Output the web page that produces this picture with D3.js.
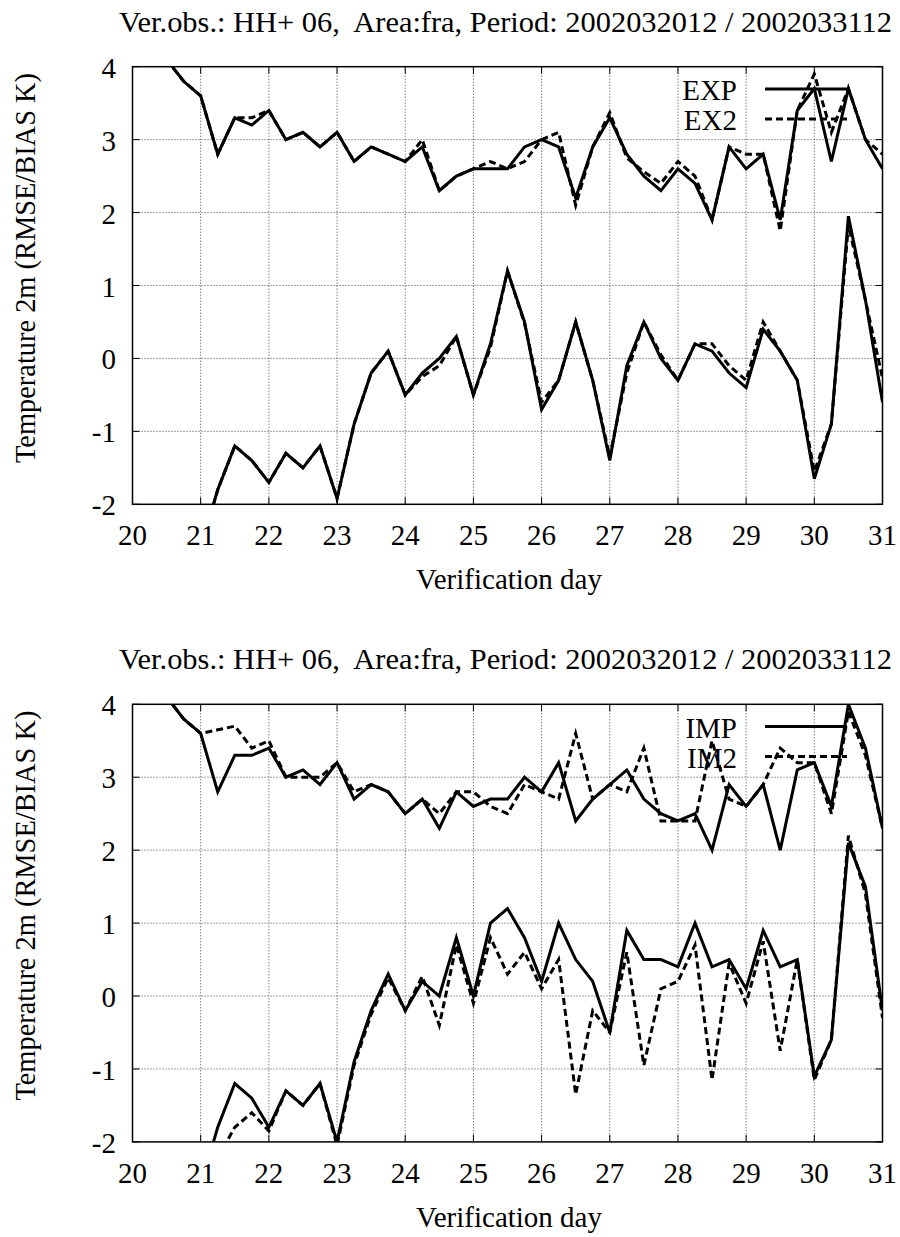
<!DOCTYPE html>
<html>
<head>
<meta charset="utf-8">
<script src="https://cdn.jsdelivr.net/npm/d3@7"></script>
<style>
  html, body { margin: 0; padding: 0; background: #fff; }
  #chart text { font-family: "Liberation Serif", "Times New Roman", Tinos, "Nimbus Roman", "DejaVu Serif", serif; fill: #000; white-space: pre; }
</style>
</head>
<body>
<svg id="chart" width="900" height="1237" font-family="Liberation Serif, DejaVu Serif, serif"></svg>
<script>
'use strict';

var days = [20.5, 20.75, 21, 21.25, 21.5, 21.75, 22, 22.25, 22.5, 22.75,
    23, 23.25, 23.5, 23.75, 24, 24.25, 24.5, 24.75, 25, 25.25, 25.5, 25.75,
    26, 26.25, 26.5, 26.75, 27, 27.25, 27.5, 27.75, 28, 28.25, 28.5, 28.75,
    29, 29.25, 29.5, 29.75, 30, 30.25, 30.5, 30.75, 31];

var xTicks = [20, 21, 22, 23, 24, 25, 26, 27, 28, 29, 30, 31];
var yTicks = [-2, -1, 0, 1, 2, 3, 4];

// top panel
var expRmse = [4.1, 3.8, 3.6, 2.8, 3.3, 3.2, 3.4, 3.0, 3.1, 2.9, 3.1, 2.7, 2.9, 2.8,
    2.7, 2.9, 2.3, 2.5, 2.6, 2.6, 2.6, 2.9, 3.0, 2.9, 2.2, 2.9, 3.3, 2.8, 2.5, 2.3,
    2.6, 2.4, 1.9, 2.9, 2.6, 2.8, 1.9, 3.4, 3.7, 2.7, 3.7, 3.0, 2.6];
var ex2Rmse = [4.1, 3.8, 3.6, 2.8, 3.3, 3.3, 3.4, 3.0, 3.1, 2.9, 3.1, 2.7, 2.9, 2.8,
    2.7, 3.0, 2.3, 2.5, 2.6, 2.7, 2.6, 2.7, 3.0, 3.1, 2.1, 2.9, 3.37, 2.75, 2.56, 2.4,
    2.7, 2.5, 1.9, 2.9, 2.8, 2.8, 1.75, 3.4, 3.9, 3.1, 3.7, 3.0, 2.8];
var expBias = [null, null, -2.6, -1.8, -1.2, -1.4, -1.7, -1.3, -1.5, -1.2, -1.92, -0.9, -0.2, 0.1,
    -0.5, -0.2, 0.0, 0.3, -0.5, 0.2, 1.2, 0.5, -0.7, -0.3, 0.5, -0.3, -1.4, -0.1, 0.5, 0.0,
    -0.3, 0.2, 0.1, -0.2, -0.4, 0.4, 0.1, -0.3, -1.65, -0.9, 1.95, 0.8, -0.6];
var ex2Bias = [null, null, -2.6, -1.8, -1.2, -1.4, -1.7, -1.3, -1.5, -1.2, -1.92, -0.9, -0.2, 0.1,
    -0.5, -0.25, -0.1, 0.3, -0.5, 0.15, 1.2, 0.48, -0.6, -0.3, 0.5, -0.3, -1.35, -0.2, 0.5, 0.05,
    -0.3, 0.2, 0.2, -0.1, -0.3, 0.5, 0.1, -0.3, -1.55, -0.9, 1.83, 0.8, -0.27];

// bottom panel
var impRmse = [4.1, 3.8, 3.6, 2.8, 3.3, 3.3, 3.4, 3.0, 3.1, 2.9, 3.2, 2.7, 2.9, 2.8,
    2.5, 2.7, 2.3, 2.8, 2.6, 2.7, 2.7, 3.0, 2.8, 3.2, 2.4, 2.7, 2.9, 3.1, 2.7, 2.5,
    2.4, 2.5, 2.0, 2.9, 2.6, 2.9, 2.0, 3.1, 3.2, 2.6, 4.0, 3.4, 2.3];
var im2Rmse = [4.1, 3.8, 3.6, 3.65, 3.7, 3.4, 3.5, 3.0, 3.0, 3.0, 3.2, 2.8, 2.9, 2.8,
    2.5, 2.7, 2.5, 2.8, 2.8, 2.6, 2.5, 2.9, 2.8, 2.7, 3.6, 2.7, 2.9, 2.8, 3.4, 2.4,
    2.4, 2.4, 3.5, 2.7, 2.6, 2.9, 3.4, 3.2, 3.2, 2.5, 3.9, 3.3, 2.3];
var impBias = [null, null, -2.6, -1.8, -1.2, -1.4, -1.8, -1.3, -1.5, -1.2, -2.0, -0.9, -0.2, 0.3,
    -0.2, 0.2, 0.0, 0.8, 0.0, 1.0, 1.2, 0.8, 0.2, 1.0, 0.5, 0.2, -0.5, 0.9, 0.5, 0.5,
    0.4, 1.0, 0.4, 0.5, 0.1, 0.9, 0.4, 0.5, -1.1, -0.6, 2.1, 1.5, -0.2];
var im2Bias = [null, null, null, -2.22, -1.8, -1.6, -1.85, -1.3, -1.5, -1.2, -2.05, -0.95, -0.25, 0.25,
    -0.2, 0.27, -0.4, 0.7, -0.1, 0.8, 0.3, 0.6, 0.1, 0.5, -1.35, -0.2, -0.5, 0.6, -0.95, 0.1,
    0.2, 0.7, -1.15, 0.45, -0.1, 0.75, -0.75, 0.5, -1.15, -0.6, 2.2, 1.4, -0.3];

var titleText = 'Ver.obs.: HH+ 06,  Area:fra, Period: 2002032012 / 2002033112';
var yTitleText = 'Temperature 2m (RMSE/BIAS K)';
var xTitleText = 'Verification day';

var panels = [
    { offset: 0, names: ['EXP', 'EX2'], solid: [expRmse, expBias], dashed: [ex2Rmse, ex2Bias] },
    { offset: 637.6, names: ['IMP', 'IM2'], solid: [impRmse, impBias], dashed: [im2Rmse, im2Bias] }
];

var svg = d3.select('#chart');
var plotLeft = 132.5, plotRight = 882.5, plotTop = 66.7, plotBottom = 504.3;
var fontSize = 29;

var x = d3.scaleLinear().domain([20, 31]).range([plotLeft, plotRight]);
var y = d3.scaleLinear().domain([-2, 4]).range([plotBottom, plotTop]);

function toPoints(values) {
    return values.map(function (v, i) { return { day: days[i], v: v }; });
}

var line = d3.line()
    .defined(function (d) { return d.v !== null; })
    .x(function (d) { return x(d.day); })
    .y(function (d) { return y(d.v); });

panels.forEach(function (p, pi) {
    var g = svg.append('g').attr('transform', 'translate(0,' + p.offset + ')');

    g.append('clipPath').attr('id', 'clip' + pi)
        .append('rect')
        .attr('x', plotLeft).attr('y', plotTop)
        .attr('width', plotRight - plotLeft).attr('height', plotBottom - plotTop);

    // dotted grid
    g.append('g').selectAll('line').data(xTicks.slice(1, -1)).join('line')
        .attr('x1', x).attr('x2', x).attr('y1', plotTop).attr('y2', plotBottom)
        .attr('stroke', '#444').attr('stroke-width', 1).attr('stroke-dasharray', '1,2');
    g.append('g').selectAll('line').data(yTicks.slice(1, -1)).join('line')
        .attr('y1', y).attr('y2', y).attr('x1', plotLeft).attr('x2', plotRight)
        .attr('stroke', '#444').attr('stroke-width', 1).attr('stroke-dasharray', '1,2');

    // series
    var lines = g.append('g').attr('clip-path', 'url(#clip' + pi + ')');
    p.dashed.forEach(function (vals) {
        lines.append('path').datum(toPoints(vals))
            .attr('d', line).attr('fill', 'none').attr('stroke', '#000')
            .attr('stroke-width', 3).attr('stroke-dasharray', '7,4');
    });
    p.solid.forEach(function (vals) {
        lines.append('path').datum(toPoints(vals))
            .attr('d', line).attr('fill', 'none').attr('stroke', '#000')
            .attr('stroke-width', 3);
    });

    // frame and inward ticks
    g.append('rect')
        .attr('x', plotLeft).attr('y', plotTop)
        .attr('width', plotRight - plotLeft).attr('height', plotBottom - plotTop)
        .attr('fill', 'none').attr('stroke', '#000').attr('stroke-width', 1.5);

    var tickLen = 7;
    var ticks = g.append('g').attr('stroke', '#000').attr('stroke-width', 1);
    xTicks.forEach(function (t) {
        ticks.append('line').attr('x1', x(t)).attr('x2', x(t)).attr('y1', plotBottom).attr('y2', plotBottom - tickLen);
        ticks.append('line').attr('x1', x(t)).attr('x2', x(t)).attr('y1', plotTop).attr('y2', plotTop + tickLen);
    });
    yTicks.forEach(function (t) {
        ticks.append('line').attr('x1', plotLeft).attr('x2', plotLeft + tickLen).attr('y1', y(t)).attr('y2', y(t));
        ticks.append('line').attr('x1', plotRight).attr('x2', plotRight - tickLen).attr('y1', y(t)).attr('y2', y(t));
    });

    // tick labels
    g.append('g').selectAll('text').data(xTicks).join('text')
        .attr('x', x).attr('y', plotBottom + 40.7)
        .attr('text-anchor', 'middle').attr('font-size', fontSize)
        .text(function (d) { return d; });
    g.append('g').selectAll('text').data(yTicks).join('text')
        .attr('x', 116).attr('y', function (d) { return y(d) + 11; })
        .attr('text-anchor', 'end').attr('font-size', fontSize)
        .text(function (d) { return d; });

    // titles
    g.append('text')
        .attr('x', 505.5).attr('y', 31.7)
        .attr('text-anchor', 'middle').attr('font-size', fontSize)
        .attr('textLength', 773).attr('lengthAdjust', 'spacingAndGlyphs')
        .text(titleText);
    g.append('text')
        .attr('x', 509).attr('y', 589)
        .attr('text-anchor', 'middle').attr('font-size', fontSize)
        .text(xTitleText);
    g.append('text')
        .attr('transform', 'translate(35,268) rotate(-90)')
        .attr('text-anchor', 'middle').attr('font-size', fontSize)
        .attr('textLength', 390).attr('lengthAdjust', 'spacingAndGlyphs')
        .text(yTitleText);

    // legend
    var legend = g.append('g');
    p.names.forEach(function (name, i) {
        var ly = 89 + i * 30;
        legend.append('text')
            .attr('x', 737).attr('y', ly + 11)
            .attr('text-anchor', 'end').attr('font-size', fontSize)
            .text(name);
        legend.append('line')
            .attr('x1', 765).attr('x2', 847).attr('y1', ly).attr('y2', ly)
            .attr('stroke', '#000').attr('stroke-width', 3)
            .attr('stroke-dasharray', i === 0 ? null : '7,4');
    });
});
</script>
</body>
</html>
